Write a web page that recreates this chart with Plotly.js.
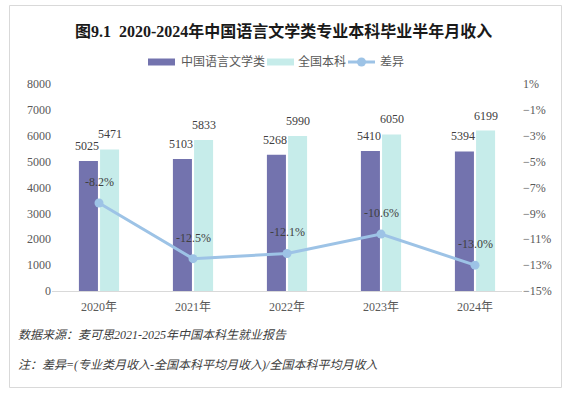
<!DOCTYPE html>
<html>
<head>
<meta charset="utf-8">
<script src="https://cdn.plot.ly/plotly-3.0.1.min.js"></script>
<style>
html,body{margin:0;padding:0;background:#fff;}
#chart{width:570px;height:394px;}
</style>
</head>
<body>
<div id="chart"></div>
<script>
// ---- data ----
const categories = ["2020年", "2021年", "2022年", "2023年", "2024年"];
const majorIncome = [5025, 5103, 5268, 5410, 5394];
const nationalIncome = [5471, 5833, 5990, 6050, 6199];
const diffPct = [-8.2, -12.5, -12.1, -10.6, -13.0];
const seriesNames = ["中国语言文学类", "全国本科", "差异"];
const titleText = "图9.1  2020-2024年中国语言文学类专业本科毕业半年月收入";
const sourceText = "数据来源：麦可思2021-2025年中国本科生就业报告";
const noteText = "注：差异=(专业类月收入-全国本科平均月收入)/全国本科平均月收入";

// ---- styles ----
const purple = "#7373AE";
const teal = "#C6ECEA";
const lineBlue = "#9DC3E6";
const serif = "'Liberation Serif', 'Noto Sans CJK SC', serif";
const cjk = "'Liberation Serif', 'Noto Sans CJK SC', sans-serif";

const W = 570, H = 394;
const M = {l: 52, r: 48, t: 84, b: 103};
const PW = W - M.l - M.r, PH = H - M.t - M.b;
const px = x => (x - M.l) / PW;
const py = y => (H - M.b - y) / PH;

const traces = [
  {
    type: "bar", x: categories, y: majorIncome, name: seriesNames[0],
    marker: {color: purple}, hoverinfo: "skip", showlegend: false
  },
  {
    type: "bar", x: categories, y: nationalIncome, name: seriesNames[1],
    marker: {color: teal}, hoverinfo: "skip", showlegend: false
  },
  {
    type: "scatter", mode: "lines+markers", x: categories, y: diffPct, yaxis: "y2",
    name: seriesNames[2],
    line: {color: lineBlue, width: 3}, marker: {color: lineBlue, size: 9},
    hoverinfo: "skip", showlegend: false, cliponaxis: false
  }
];

const labelFont = {family: serif, size: 12, color: "#404040"};
const annotations = [];
// bar value labels
categories.forEach((c, i) => {
  annotations.push({
    x: c, y: majorIncome[i], xref: "x", yref: "y", text: String(majorIncome[i]),
    showarrow: false, xshift: -12, yshift: 15, yanchor: "middle", font: labelFont
  });
  annotations.push({
    x: c, y: nationalIncome[i], xref: "x", yref: "y", text: String(nationalIncome[i]),
    showarrow: false, xshift: 11, yshift: 15, yanchor: "middle", font: labelFont
  });
});
// line labels
categories.forEach((c, i) => {
  annotations.push({
    x: c, y: diffPct[i], xref: "x", yref: "y2",
    text: diffPct[i].toFixed(1) + "%", showarrow: false,
    yshift: 21, yanchor: "middle", font: labelFont
  });
});
// title
annotations.push({
  xref: "paper", yref: "paper", x: px(283), y: py(31), xanchor: "center", yanchor: "middle",
  text: "<b>" + titleText + "</b>", showarrow: false,
  font: {family: cjk, size: 16, color: "#1a1a1a"}
});
// footnotes
annotations.push({
  xref: "paper", yref: "paper", x: px(16), y: py(335), xanchor: "left", yanchor: "middle",
  text: "<i>" + sourceText + "</i>", showarrow: false,
  font: {family: cjk, size: 12, color: "#404040"}
});
annotations.push({
  xref: "paper", yref: "paper", x: px(16), y: py(365), xanchor: "left", yanchor: "middle",
  text: "<i>" + noteText + "</i>", showarrow: false,
  font: {family: cjk, size: 12, color: "#404040"}
});
// custom legend
const legY = 62;
const legFont = {family: cjk, size: 12, color: "#595959"};
annotations.push({xref:"paper",yref:"paper",x:px(179),y:py(legY),xanchor:"left",yanchor:"middle",
  text: seriesNames[0], showarrow:false, font: legFont});
annotations.push({xref:"paper",yref:"paper",x:px(296),y:py(legY),xanchor:"left",yanchor:"middle",
  text: seriesNames[1], showarrow:false, font: legFont});
annotations.push({xref:"paper",yref:"paper",x:px(378),y:py(legY),xanchor:"left",yanchor:"middle",
  text: seriesNames[2], showarrow:false, font: legFont});

const shapes = [
  // border
  {type:"rect", xref:"paper", yref:"paper", x0:px(9.5), x1:px(561.5), y0:py(5.5), y1:py(387.5),
   line:{color:"#D9D9D9", width:1}, fillcolor:"rgba(0,0,0,0)", layer:"below"},
  // legend swatches
  {type:"rect", xref:"paper", yref:"paper", x0:px(148), x1:px(175), y0:py(legY-3.5), y1:py(legY+3.5),
   line:{width:0}, fillcolor:purple},
  {type:"rect", xref:"paper", yref:"paper", x0:px(267), x1:px(294), y0:py(legY-3.5), y1:py(legY+3.5),
   line:{width:0}, fillcolor:teal},
  {type:"line", xref:"paper", yref:"paper", x0:px(348), x1:px(375), y0:py(legY), y1:py(legY),
   line:{color:lineBlue, width:3}},
  {type:"circle", xref:"paper", yref:"paper", x0:px(357), x1:px(366), y0:py(legY-4.5), y1:py(legY+4.5),
   line:{width:0}, fillcolor:lineBlue}
];

const layout = {
  width: W, height: H,
  margin: M,
  paper_bgcolor: "#ffffff", plot_bgcolor: "rgba(0,0,0,0)",
  barmode: "group", bargap: 0.55, bargroupgap: 0.1,
  showlegend: false,
  xaxis: {
    type: "category", showline: true, linecolor: "#D9D9D9", linewidth: 1,
    ticks: "", showgrid: false, zeroline: false, ticklabelstandoff: 5,
    tickfont: {family: cjk, size: 12, color: "#595959"}
  },
  yaxis: {
    range: [0, 8000], dtick: 1000, showgrid: false, zeroline: false, showline: false,
    ticks: "", tickfont: {family: serif, size: 12, color: "#595959"}
  },
  yaxis2: {
    overlaying: "y", side: "right", range: [-15, 1], tick0: 1, dtick: 2,
    showgrid: false, zeroline: false, showline: false, ticks: "",
    ticksuffix: "%", tickfont: {family: serif, size: 12, color: "#595959"}
  },
  annotations: annotations,
  shapes: shapes,
  hovermode: false
};

Plotly.newPlot("chart", traces, layout, {displayModeBar: false, staticPlot: true});
</script>
</body>
</html>
